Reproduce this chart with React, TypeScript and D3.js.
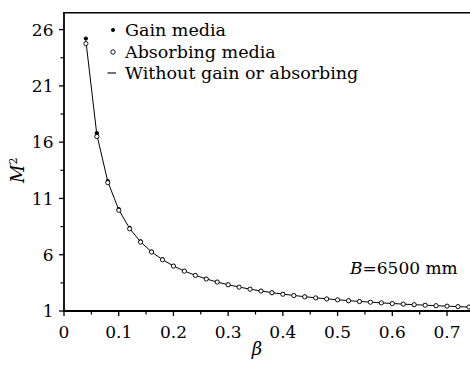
import React from "react";
import * as d3 from "d3";

const beta = [0.04, 0.06, 0.08, 0.10, 0.12, 0.14, 0.16, 0.18, 0.20, 0.22, 0.24, 0.26, 0.28, 0.30, 0.32, 0.34, 0.36, 0.38, 0.40, 0.42, 0.44, 0.46, 0.48, 0.50, 0.52, 0.54, 0.56, 0.58, 0.60, 0.62, 0.64, 0.66, 0.68, 0.70, 0.72, 0.74];
const gainMedia = [25.2, 16.8, 12.55, 10.05, 8.38, 7.18, 6.28, 5.58, 5.02, 4.56, 4.18, 3.86, 3.58, 3.34, 3.13, 2.95, 2.78, 2.63, 2.50, 2.38, 2.27, 2.17, 2.08, 2.00, 1.92, 1.85, 1.79, 1.72, 1.67, 1.61, 1.56, 1.52, 1.47, 1.43, 1.39, 1.35];
const absorbingMedia = [24.75, 16.5, 12.4, 9.95, 8.3, 7.12, 6.24, 5.55, 4.99, 4.54, 4.16, 3.84, 3.57, 3.33, 3.12, 2.94, 2.77, 2.62, 2.49, 2.37, 2.26, 2.16, 2.07, 1.99, 1.91, 1.84, 1.78, 1.72, 1.66, 1.61, 1.56, 1.51, 1.47, 1.43, 1.39, 1.35];
const withoutGain = [25.0, 16.67, 12.5, 10.0, 8.33, 7.14, 6.25, 5.56, 5.0, 4.55, 4.17, 3.85, 3.57, 3.33, 3.13, 2.94, 2.78, 2.63, 2.5, 2.38, 2.27, 2.17, 2.08, 2.0, 1.92, 1.85, 1.79, 1.72, 1.67, 1.61, 1.56, 1.52, 1.47, 1.43, 1.39, 1.35];

const xTicks = [0, 0.1, 0.2, 0.3, 0.4, 0.5, 0.6, 0.7];
const xMinorTicks = [0.05, 0.15, 0.25, 0.35, 0.45, 0.55, 0.65];
const yTicks = [1, 6, 11, 16, 21, 26];
const yMinorTicks = [3.5, 8.5, 13.5, 18.5, 23.5];
const legendLabels = ["Gain media", "Absorbing media", "Without gain or absorbing"];

const W = 470;
const H = 365;
const FONT = '"DejaVu Serif", "Liberation Serif", serif';
const TXT: React.CSSProperties = { fontFamily: FONT };

export default function App() {
  const x = d3.scaleLinear().domain([0, 0.742]).range([64, 470]);
  const y = d3.scaleLinear().domain([1, 27.5]).range([311, 12.7]);
  const line = d3
    .line<number>()
    .x((_, i) => x(beta[i]))
    .y((d) => y(d));

  const x0 = x(0);
  const y0 = y(1);

  return (
    <svg width={W} height={H} style={{ position: "absolute", left: 0, top: 0, background: "#fff" }}>
      <rect width={W} height={H} fill="#fff" />
      <path d={line(withoutGain) || ""} fill="none" stroke="#000" strokeWidth={1} />
      {gainMedia.map((v, i) => (
        <circle key={"g" + i} cx={x(beta[i])} cy={y(v)} r={2.1} fill="#000" />
      ))}
      {absorbingMedia.map((v, i) => (
        <circle key={"a" + i} cx={x(beta[i])} cy={y(v)} r={2.1} fill="#fff" stroke="#000" strokeWidth={0.9} />
      ))}

      <line x1={x0} x2={x0} y1={y(27.5)} y2={y0} stroke="#000" strokeWidth={1.8} />
      <line x1={x0 - 1} x2={W} y1={y0} y2={y0} stroke="#000" strokeWidth={1.8} />
      <line x1={x0 - 0.9} x2={W} y1={y(27.5)} y2={y(27.5)} stroke="#000" strokeWidth={1.5} />

      {xTicks.map((t) => (
        <g key={"xt" + t}>
          <line x1={x(t)} x2={x(t)} y1={y0} y2={y0 + 5} stroke="#000" strokeWidth={1.3} />
          <text x={x(t)} y={338} textAnchor="middle" style={TXT} fontSize={17} fill="#000">
            {t === 0 ? "0" : d3.format(".1f")(t)}
          </text>
        </g>
      ))}
      {xMinorTicks.map((t) => (
        <line key={"xm" + t} x1={x(t)} x2={x(t)} y1={y0} y2={y0 + 3.5} stroke="#000" strokeWidth={1.2} />
      ))}

      {yTicks.map((t) => (
        <g key={"yt" + t}>
          <line x1={x0 - 5} x2={x0} y1={y(t)} y2={y(t)} stroke="#000" strokeWidth={1.3} />
          <text x={53.5} y={y(t) + 6.2} textAnchor="end" style={TXT} fontSize={17} fill="#000">
            {t}
          </text>
        </g>
      ))}
      {yMinorTicks.map((t) => (
        <line key={"ym" + t} x1={x0 - 3.5} x2={x0} y1={y(t)} y2={y(t)} stroke="#000" strokeWidth={1.2} />
      ))}

      <text x={257} y={355} textAnchor="middle" style={TXT} fontStyle="italic" fontSize={18} fill="#000">
        β
      </text>
      <text
        transform={`translate(24, ${y(13.5)}) rotate(-90)`}
        textAnchor="middle"
        style={TXT}
        fontStyle="italic"
        fontSize={18}
        fill="#000"
      >
        M<tspan dy={-7} fontSize={11} fontStyle="normal">2</tspan>
      </text>

      <text x={350} y={274} style={TXT} fontSize={17} fill="#000">
        <tspan fontStyle="italic">B</tspan>=6500 mm
      </text>

      <circle cx={113} cy={30} r={2} fill="#000" />
      <text x={125} y={36} style={TXT} fontSize={17.5} fill="#000">{legendLabels[0]}</text>
      <circle cx={113} cy={52} r={2.2} fill="#fff" stroke="#000" strokeWidth={0.9} />
      <text x={125} y={57.5} style={TXT} fontSize={17.5} fill="#000">{legendLabels[1]}</text>
      <line x1={107.5} x2={116} y1={73} y2={73} stroke="#000" strokeWidth={1.1} />
      <text x={125} y={79} style={TXT} fontSize={17.5} fill="#000">{legendLabels[2]}</text>
    </svg>
  );
}
